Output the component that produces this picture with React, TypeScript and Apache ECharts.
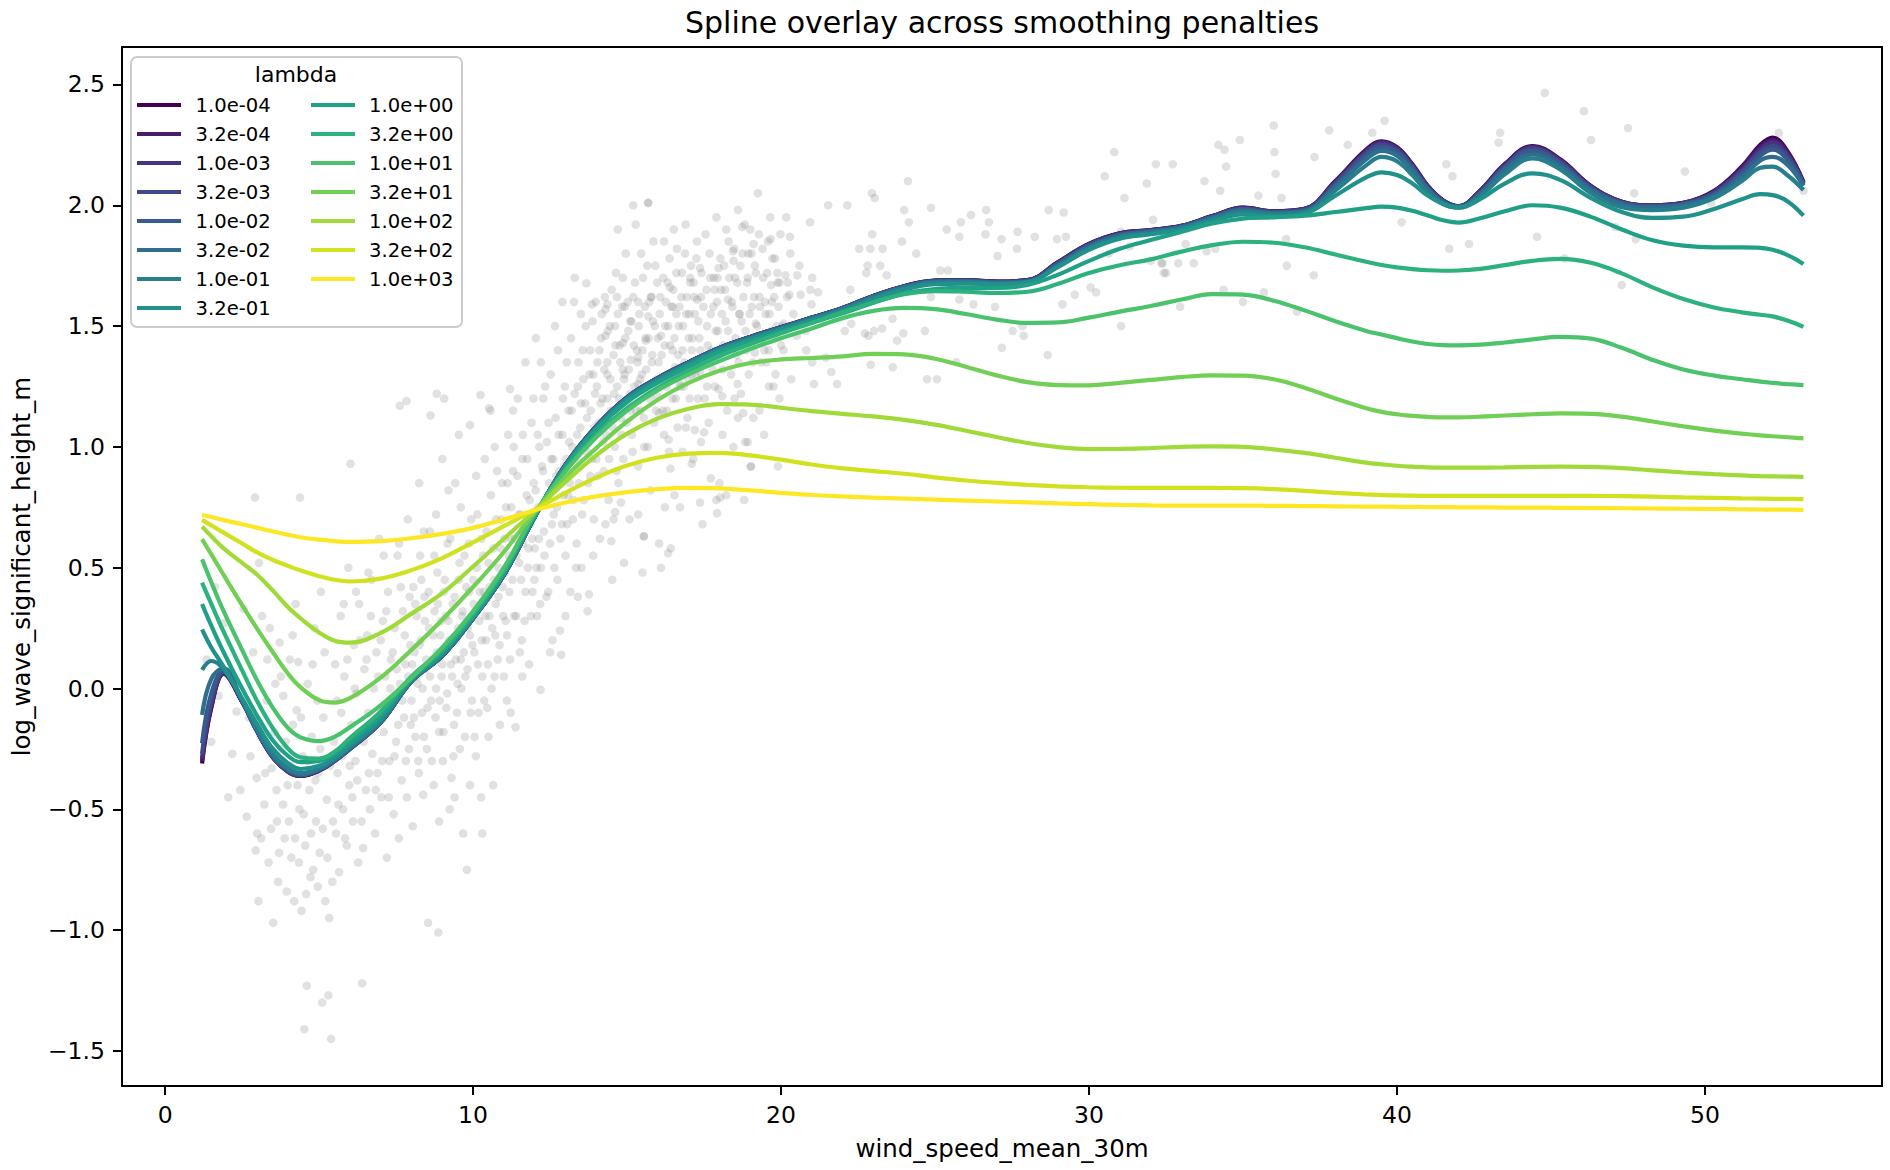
import React, { useEffect, useRef } from "react";
import * as echarts from "echarts";

const FONT = "DejaVu Sans";

const X_TICKS = [0, 10, 20, 30, 40, 50];
const Y_TICKS = [-1.5, -1, -0.5, 0, 0.5, 1, 1.5, 2, 2.5];

const LAMBDA_LABELS = [
  "1.0e-04", "3.2e-04", "1.0e-03", "3.2e-03", "1.0e-02", "3.2e-02", "1.0e-01", "3.2e-01",
  "1.0e+00", "3.2e+00", "1.0e+01", "3.2e+01", "1.0e+02", "3.2e+02", "1.0e+03",
];

const COLORS = [
  "#440154", "#481b6d", "#46327e", "#3f4888", "#375b8c", "#2e6e8e", "#277f8e", "#21918c",
  "#20a187", "#2db27d", "#4bc26c", "#72cf56", "#a0da39", "#d0e11e", "#fde725",
];

const X = [
  1.2, 1.5, 1.9, 2.5, 3, 3.5, 4, 4.4, 5, 5.5,
  6, 7, 8, 9, 10, 11, 12, 13, 14, 15,
  16, 17, 18, 19, 20, 21, 22, 23, 24, 25,
  26, 27, 28, 29, 30, 31, 32, 33, 34, 35,
  36, 37, 38, 39, 39.5, 40, 40.5, 41, 41.5, 42,
  42.7, 43.5, 44.4, 45.3, 46.3, 47.3, 48.3, 49.3, 50.3, 51.2,
  51.8, 52.2, 52.7, 53.2,
];

const Y_1e_4 = [
  -0.31, -0.08, 0.06, -0.055, -0.18, -0.285, -0.345, -0.362, -0.34, -0.3,
  -0.25, -0.14, 0.03, 0.135, 0.29, 0.47, 0.71, 0.925, 1.085, 1.205,
  1.285, 1.35, 1.41, 1.455, 1.495, 1.535, 1.575, 1.625, 1.665, 1.688,
  1.69, 1.684, 1.69, 1.765, 1.84, 1.884, 1.897, 1.915, 1.955, 1.99,
  1.975, 1.985, 2.1, 2.23, 2.265, 2.24, 2.17, 2.08, 2.02, 1.996,
  2.06, 2.17, 2.245, 2.19, 2.08, 2.015, 2.0, 2.01, 2.06, 2.16,
  2.25, 2.28, 2.22, 2.095,
];
const Y_3e_4 = [
  -0.3, -0.075, 0.062, -0.055, -0.18, -0.285, -0.345, -0.361, -0.34, -0.3,
  -0.25, -0.14, 0.03, 0.135, 0.29, 0.47, 0.71, 0.925, 1.085, 1.205,
  1.285, 1.35, 1.41, 1.455, 1.495, 1.535, 1.575, 1.625, 1.665, 1.688,
  1.69, 1.684, 1.69, 1.765, 1.84, 1.884, 1.897, 1.915, 1.955, 1.99,
  1.975, 1.985, 2.098, 2.227, 2.262, 2.238, 2.168, 2.079, 2.02, 1.996,
  2.06, 2.168, 2.243, 2.188, 2.079, 2.015, 2.0, 2.01, 2.058, 2.155,
  2.242, 2.27, 2.214, 2.095,
];
const Y_1e_3 = [
  -0.29, -0.065, 0.064, -0.054, -0.18, -0.284, -0.344, -0.36, -0.339, -0.3,
  -0.25, -0.14, 0.03, 0.135, 0.29, 0.47, 0.71, 0.925, 1.085, 1.205,
  1.285, 1.35, 1.41, 1.455, 1.495, 1.535, 1.575, 1.625, 1.665, 1.687,
  1.689, 1.683, 1.689, 1.763, 1.838, 1.882, 1.896, 1.914, 1.954, 1.988,
  1.974, 1.984, 2.095, 2.222, 2.257, 2.234, 2.165, 2.077, 2.019, 1.996,
  2.058, 2.165, 2.24, 2.185, 2.077, 2.014, 1.999, 2.009, 2.055, 2.148,
  2.232, 2.26, 2.207, 2.092,
];
const Y_3e_3 = [
  -0.27, -0.05, 0.068, -0.053, -0.179, -0.283, -0.343, -0.359, -0.338, -0.299,
  -0.249, -0.14, 0.03, 0.135, 0.29, 0.47, 0.71, 0.925, 1.085, 1.205,
  1.285, 1.35, 1.41, 1.455, 1.495, 1.535, 1.575, 1.624, 1.664, 1.686,
  1.688, 1.682, 1.688, 1.761, 1.836, 1.88, 1.895, 1.913, 1.952, 1.986,
  1.972, 1.982, 2.09, 2.215, 2.25, 2.228, 2.16, 2.074, 2.017, 1.995,
  2.055, 2.16, 2.235, 2.18, 2.074, 2.012, 1.998, 2.007, 2.05, 2.14,
  2.22, 2.245, 2.197, 2.09,
];
const Y_1e_2 = [
  -0.226, -0.02, 0.075, -0.052, -0.178, -0.281, -0.34, -0.357, -0.336, -0.298,
  -0.248, -0.139, 0.03, 0.135, 0.29, 0.47, 0.71, 0.924, 1.084, 1.204,
  1.284, 1.349, 1.409, 1.454, 1.494, 1.534, 1.574, 1.623, 1.663, 1.685,
  1.687, 1.681, 1.686, 1.758, 1.833, 1.878, 1.893, 1.911, 1.95, 1.983,
  1.97, 1.979, 2.083, 2.205, 2.24, 2.22, 2.153, 2.07, 2.014, 1.994,
  2.05, 2.155, 2.225, 2.172, 2.07, 2.009, 1.995, 2.004, 2.045, 2.13,
  2.205, 2.23, 2.185, 2.085,
];
const Y_3e_2 = [
  -0.109, 0.04, 0.084, -0.05, -0.176, -0.278, -0.336, -0.354, -0.333, -0.296,
  -0.246, -0.138, 0.031, 0.136, 0.291, 0.471, 0.711, 0.923, 1.082, 1.202,
  1.282, 1.347, 1.407, 1.452, 1.492, 1.532, 1.572, 1.621, 1.661, 1.683,
  1.685, 1.679, 1.684, 1.754, 1.829, 1.874, 1.89, 1.909, 1.947, 1.979,
  1.967, 1.976, 2.075, 2.19, 2.225, 2.205, 2.143, 2.064, 2.01, 1.993,
  2.045, 2.145, 2.21, 2.162, 2.062, 2.004, 1.99, 2.0, 2.038, 2.115,
  2.185, 2.2, 2.165, 2.08,
];
const Y_1e_1 = [
  0.077, 0.114, 0.08, -0.045, -0.17, -0.272, -0.33, -0.35, -0.33, -0.293,
  -0.243, -0.136, 0.032, 0.138, 0.292, 0.472, 0.712, 0.922, 1.08, 1.2,
  1.28, 1.345, 1.404, 1.449, 1.489, 1.529, 1.569, 1.618, 1.658, 1.68,
  1.682, 1.676, 1.681, 1.748, 1.822, 1.868, 1.886, 1.906, 1.943, 1.974,
  1.963, 1.972, 2.062, 2.165, 2.2, 2.182, 2.125, 2.052, 2.005, 1.99,
  2.038, 2.128, 2.194, 2.148, 2.05, 1.992, 1.98, 1.99, 2.03, 2.1,
  2.155, 2.16, 2.122, 2.063,
];
const Y_3e_1 = [
  0.245, 0.17, 0.09, -0.04, -0.15, -0.25, -0.31, -0.333, -0.32, -0.285,
  -0.235, -0.125, 0.035, 0.145, 0.295, 0.475, 0.712, 0.92, 1.077, 1.195,
  1.276, 1.341, 1.4, 1.445, 1.485, 1.524, 1.563, 1.611, 1.651, 1.673,
  1.676, 1.673, 1.681, 1.745, 1.816, 1.862, 1.88, 1.9, 1.935, 1.962,
  1.955, 1.966, 2.04, 2.115, 2.136, 2.125, 2.09, 2.04, 2.005, 1.99,
  2.025, 2.09, 2.132, 2.105, 2.03, 1.972, 1.948, 1.953, 1.985, 2.025,
  2.046, 2.042, 2.015, 1.957,
];
const Y_1e0 = [
  0.35, 0.26, 0.15, 0.0, -0.115, -0.215, -0.28, -0.305, -0.3, -0.27,
  -0.22, -0.11, 0.04, 0.15, 0.3, 0.48, 0.715, 0.915, 1.07, 1.185,
  1.266, 1.332, 1.392, 1.437, 1.477, 1.515, 1.553, 1.597, 1.635, 1.653,
  1.658, 1.658, 1.67, 1.713, 1.77, 1.82, 1.856, 1.89, 1.925, 1.945,
  1.95, 1.957, 1.972, 1.988, 1.994, 1.99, 1.977, 1.958, 1.938, 1.928,
  1.946, 1.975, 2.0, 1.99, 1.952, 1.9, 1.855, 1.833, 1.826, 1.826,
  1.824, 1.816, 1.793, 1.757,
];
const Y_3e0 = [
  0.438, 0.35, 0.235, 0.075, -0.055, -0.165, -0.25, -0.285, -0.29, -0.262,
  -0.205, -0.095, 0.05, 0.16, 0.31, 0.49, 0.72, 0.905, 1.05, 1.16,
  1.245, 1.315, 1.375, 1.425, 1.47, 1.513, 1.557, 1.598, 1.632, 1.645,
  1.642, 1.637, 1.642, 1.675, 1.72, 1.752, 1.776, 1.808, 1.835, 1.849,
  1.845, 1.826, 1.796, 1.766, 1.753, 1.743, 1.736, 1.731, 1.729, 1.73,
  1.737, 1.752, 1.77, 1.778, 1.762, 1.718, 1.66, 1.612, 1.577, 1.557,
  1.547, 1.54, 1.522, 1.497,
];
const Y_1e1 = [
  0.535, 0.44, 0.32, 0.16, 0.03, -0.08, -0.165, -0.202, -0.218, -0.2,
  -0.16, -0.07, 0.045, 0.17, 0.32, 0.5, 0.725, 0.9, 1.04, 1.15,
  1.235, 1.3, 1.355, 1.405, 1.45, 1.49, 1.533, 1.563, 1.575, 1.57,
  1.55, 1.527, 1.513, 1.515, 1.535, 1.56, 1.583, 1.61, 1.632, 1.63,
  1.605, 1.565, 1.52, 1.48, 1.465, 1.45, 1.436, 1.426, 1.421, 1.42,
  1.423, 1.432, 1.445, 1.455, 1.448, 1.41, 1.36, 1.32, 1.295, 1.28,
  1.27, 1.265, 1.26, 1.256,
];
const Y_3e1 = [
  0.618, 0.555, 0.47, 0.345, 0.245, 0.15, 0.06, 0.005, -0.048, -0.058,
  -0.04, 0.045, 0.16, 0.285, 0.42, 0.565, 0.73, 0.875, 0.995, 1.105,
  1.195, 1.265, 1.315, 1.347, 1.362, 1.368, 1.375, 1.385, 1.383, 1.365,
  1.332, 1.296, 1.268, 1.256, 1.255, 1.265, 1.277, 1.289, 1.296, 1.295,
  1.28, 1.245, 1.2, 1.16, 1.145, 1.135, 1.128, 1.124, 1.122, 1.122,
  1.125, 1.13, 1.135, 1.139, 1.137, 1.125, 1.105, 1.085, 1.067, 1.055,
  1.048, 1.044, 1.04, 1.035,
];
const Y_1e2 = [
  0.67, 0.63, 0.58, 0.52, 0.47, 0.405, 0.335, 0.29, 0.232, 0.198,
  0.19, 0.23, 0.31, 0.395, 0.505, 0.62, 0.735, 0.855, 0.965, 1.055,
  1.118, 1.158, 1.177, 1.175, 1.162, 1.148, 1.137, 1.126, 1.112, 1.092,
  1.067, 1.041, 1.016, 0.999, 0.991, 0.992, 0.995, 1.0, 1.002, 1.0,
  0.99, 0.975, 0.955, 0.935, 0.928, 0.922, 0.918, 0.915, 0.914, 0.914,
  0.914, 0.915, 0.917, 0.918, 0.917, 0.912, 0.903, 0.894, 0.887, 0.882,
  0.879, 0.878, 0.877, 0.876,
];
const Y_3e2 = [
  0.698, 0.675, 0.645, 0.6, 0.562, 0.532, 0.507, 0.488, 0.465, 0.45,
  0.443, 0.455, 0.49, 0.54, 0.605, 0.672, 0.74, 0.81, 0.873, 0.923,
  0.956, 0.972, 0.975, 0.965, 0.947, 0.927, 0.911, 0.9, 0.889, 0.874,
  0.861, 0.851, 0.843, 0.837, 0.833, 0.831, 0.83, 0.83, 0.83, 0.829,
  0.825, 0.818, 0.81, 0.803, 0.8, 0.799, 0.798, 0.797, 0.797, 0.797,
  0.797, 0.797, 0.797, 0.797, 0.797, 0.796, 0.794, 0.791, 0.789, 0.787,
  0.786, 0.785, 0.785, 0.784,
];
const Y_1e3 = [
  0.718, 0.71, 0.697, 0.68, 0.665, 0.65, 0.636, 0.626, 0.616, 0.61,
  0.607, 0.61, 0.622, 0.64, 0.665, 0.7, 0.738, 0.77, 0.795, 0.813,
  0.825, 0.83, 0.828, 0.82, 0.81, 0.801, 0.795, 0.79, 0.786, 0.782,
  0.778, 0.774, 0.77, 0.766, 0.763, 0.76, 0.758, 0.757, 0.757, 0.757,
  0.756, 0.755, 0.754, 0.753, 0.753, 0.752, 0.752, 0.751, 0.751, 0.75,
  0.75, 0.749, 0.749, 0.748, 0.747, 0.746, 0.745, 0.744, 0.743, 0.742,
  0.741, 0.74, 0.74, 0.739,
];

const SPLINES = [
  Y_1e_4, Y_3e_4, Y_1e_3, Y_3e_3, Y_1e_2, Y_3e_2, Y_1e_1, Y_3e_1,
  Y_1e0, Y_3e0, Y_1e1, Y_3e1, Y_1e2, Y_3e2, Y_1e3,
];

const SCATTER_LOW = [
  [1.35,0.12],[1.5,-0.22],[1.62,0.42],[1.73,-0.03],[1.9,0.27],[2.05,-0.45],[2.18,-0.27],[2.32,-0.095],[2.44,-0.42],[2.55,0.33],
  [2.65,-0.53],[2.72,-0.12],[2.77,-0.28],[2.86,0.15],[2.92,0.79],[2.94,-0.67],[2.97,-0.37],[2.99,-0.6],[3.03,-0.88],[3.05,0.52],
  [3.1,-0.2],[3.15,0.3],[3.22,-0.48],[3.3,-0.05],[3.36,-0.72],[3.4,0.25],[3.46,-0.33],[3.51,-0.97],[3.58,0.02],[3.63,-0.55],
  [3.67,-0.8],[3.72,0.19],[3.78,-0.25],[3.84,-0.03],[3.88,-0.62],[3.95,-0.84],[3.98,-0.4],[4.05,0.12],[4.1,-0.7],[4.15,-0.15],
  [4.19,-0.88],[4.24,0.35],[4.27,-0.09],[4.32,0.11],[4.36,-0.5],[4.38,0.79],[4.43,-0.92],[4.47,-0.28],[4.52,-1.41],[4.55,-0.65],
  [4.6,-1.23],[4.63,0.02],[4.68,-0.42],[4.72,-0.78],[4.76,-0.2],[4.81,-0.75],[4.85,0.25],[4.9,-0.55],[4.94,-0.05],[4.97,-0.35],
  [5.02,-0.68],[5.06,0.4],[5.1,-1.3],[5.14,-0.12],[5.2,-0.88],[5.25,-0.46],[5.3,-1.27],[5.33,-0.95],[5.39,-1.45],[5.43,-0.8],
  [5.48,-0.22],[5.52,0.1],[5.55,-0.6],[5.6,-0.35],[5.65,-0.76],[5.7,0.3],[5.72,-0.1],[5.78,-0.5],[5.82,0.05],[5.86,-0.25],
  [5.9,-0.65],[5.95,0.5],[5.98,-0.4],[6.02,0.93],[6.05,-0.15],[6.1,-0.55],[6.13,0.18],[6.18,-0.3],[6.22,-0.02],[6.27,-0.72],
  [6.3,0.35],[6.35,-0.2],[6.4,-1.22],[6.43,-0.66],[6.47,0.08],[6.52,-0.42],[6.56,0.22],[6.6,-0.1],[6.65,-0.5],[6.7,0.45],
  [6.73,-0.27],[6.78,0.0],[6.82,-0.6],[6.86,0.15],[6.9,-0.35],[6.95,0.62],[6.98,-0.08],[7.02,-0.45],[7.07,0.28],[7.1,-0.18],
  [7.15,0.05],[7.2,-0.7],[7.24,0.4],[7.28,-0.3],[7.33,0.12],[7.37,-0.05],[7.42,-0.52],[7.46,0.25],[7.5,-0.22],[7.55,0.55],
  [7.59,-0.62],[7.62,1.17],[7.63,0.02],[7.68,-0.38],[7.72,0.32],[7.76,-0.12],[7.8,0.1],[7.84,1.19],[7.85,-0.45],[7.88,0.7],
  [7.92,-0.25],[7.96,0.18],[8.0,-0.05],
];

const SCATTER_LOW_DENSE = [
  [3.12,-0.62],[3.25,-0.35],[3.32,0.12],[3.44,-0.58],[3.55,-0.18],[3.62,-0.42],[3.7,-0.68],[3.76,0.05],[3.83,-0.48],[3.92,-0.22],
  [4.02,-0.55],[4.08,-0.32],[4.14,0.22],[4.22,-0.62],[4.3,-0.4],[4.35,-0.72],[4.41,-0.12],[4.5,-0.52],[4.58,-0.85],[4.66,-0.3],
  [4.74,-0.6],[4.79,0.1],[4.88,-0.38],[4.96,-0.82],[5.04,-0.25],[5.12,-0.58],[5.18,0.15],[5.27,-0.7],[5.35,-0.32],[5.45,-0.55],
  [5.58,-0.05],[5.63,-0.48],[5.75,-0.28],[5.84,-0.62],[5.92,0.12],[6.0,-0.32],[6.08,-0.45],[6.16,0.0],[6.24,-0.38],[6.33,0.2],
  [6.38,-0.55],[6.45,-0.22],[6.54,0.12],[6.62,-0.35],[6.68,0.3],[6.76,-0.15],[6.84,-0.42],[6.92,0.05],[7.0,0.2],[7.05,-0.3],
  [7.13,-0.08],[7.18,0.32],[7.26,-0.45],[7.31,0.0],[7.39,0.15],[7.45,-0.28],[7.52,0.08],[7.57,-0.15],[7.65,0.42],[7.7,-0.05],
  [7.78,0.22],[7.82,-0.3],[7.9,0.05],[7.94,0.38],[7.98,-0.15],[7.6,0.6],[7.1,0.55],[6.6,0.48],[6.2,0.4],[5.8,0.35],
];

const SCATTER_MID = [
  [8.04,-0.57],[8.06,0.42],[8.1,0.15],[8.13,-0.2],[8.17,0.3],[8.2,0.02],[8.24,-0.35],[8.28,0.55],[8.3,0.2],[8.34,-0.1],
  [8.38,-0.44],[8.42,0.38],[8.45,0.08],[8.5,-0.25],[8.54,-0.97],[8.57,0.25],[8.6,0.65],[8.62,1.13],[8.64,-0.05],[8.68,0.12],
  [8.72,-0.4],[8.75,0.32],[8.8,0.0],[8.82,1.22],[8.84,0.48],[8.87,-1.01],[8.9,-0.18],[8.94,0.22],[8.98,0.05],[9.02,-0.3],
  [9.05,0.4],[9.06,1.2],[9.1,0.16],[9.13,-0.08],[9.17,0.6],[9.2,0.28],[9.24,-0.5],[9.28,0.1],[9.3,-0.37],[9.34,0.35],
  [9.38,-0.15],[9.42,0.85],[9.45,0.2],[9.5,0.02],[9.53,0.45],[9.54,1.05],[9.57,-0.25],[9.6,0.12],[9.64,0.3],[9.68,-0.6],
  [9.72,0.55],[9.75,0.05],[9.8,-0.75],[9.83,0.25],[9.87,0.4],[9.9,1.09],[9.92,-0.1],[9.94,0.7],[9.98,0.18],[10.02,0.35],
  [10.05,-0.2],[10.09,-0.28],[10.12,0.5],[10.16,0.1],[10.2,0.28],[10.24,1.215],[10.26,-0.45],[10.27,0.62],[10.3,0.05],[10.35,0.4],
  [10.38,0.95],[10.42,0.2],[10.46,-0.08],[10.5,0.52],[10.52,1.16],[10.53,0.3],[10.57,1.15],[10.6,0.0],[10.65,-0.4],[10.68,0.45],
  [10.72,0.22],[10.75,0.7],[10.8,0.12],[10.83,0.38],[10.87,-0.15],[10.9,0.58],[10.94,0.85],[10.98,0.3],[11.0,0.05],[11.04,0.48],
  [11.07,0.75],[11.1,0.22],[11.14,1.05],[11.18,0.4],[11.2,1.24],[11.22,-0.1],[11.25,0.62],[11.3,0.9],[11.33,0.3],[11.38,-0.16],
  [11.41,0.55],[11.45,1.2],[11.48,0.72],[11.52,0.15],[11.56,0.45],[11.6,0.95],[11.63,0.6],[11.67,0.28],[11.7,1.35],[11.74,0.8],
  [11.78,0.5],[11.82,0.1],[11.86,0.68],[11.9,1.1],[11.93,0.4],[11.97,0.85],[12.0,0.58],[12.04,1.45],[12.08,0.3],[12.12,0.75],
  [12.15,1.0],[12.19,-0.005],[12.2,0.5],[12.27,0.9],[12.3,0.65],[12.34,1.25],[12.38,0.38],[12.42,0.8],[12.45,1.1],[12.5,0.6],
  [12.54,0.95],[12.58,0.2],[12.62,0.72],[12.66,1.5],[12.7,0.88],[12.74,0.45],[12.78,1.05],[12.82,0.24],[12.86,0.14],[12.88,0.68],
  [12.92,1.2],[12.96,0.92],[13.0,0.55],[13.04,1.35],[13.08,0.8],[13.12,1.02],[13.16,0.4],[13.2,1.15],[13.24,0.7],[13.28,1.6],
  [13.32,0.95],[13.36,0.6],[13.4,1.25],[13.44,0.85],[13.48,1.08],[13.5,1.55],[13.52,0.5],[13.56,1.4],[13.6,0.78],[13.64,1.18],
  [13.68,1.677],[13.7,0.98],[13.72,0.32],[13.76,0.39],[13.78,1.3],[13.8,0.88],[13.84,1.05],[13.86,1.59],[13.88,1.52],[13.92,0.7],
  [13.96,1.22],[14.0,0.95],
];

const SCATTER_MID_DENSE = [
  [8.02,0.1],[8.08,-0.12],[8.12,0.35],[8.16,0.05],[8.22,-0.3],[8.26,0.18],[8.32,0.45],[8.36,0.0],[8.4,-0.2],[8.44,0.28],
  [8.48,0.12],[8.52,-0.08],[8.56,0.4],[8.6,0.05],[8.66,-0.3],[8.7,0.22],[8.74,0.55],[8.78,-0.12],[8.82,0.15],[8.86,0.35],
  [8.92,-0.05],[8.96,0.28],[9.0,0.1],[9.04,-0.18],[9.08,0.45],[9.12,0.3],[9.16,-0.02],[9.22,0.2],[9.26,0.62],[9.32,0.05],
  [9.36,-0.28],[9.4,0.38],[9.44,0.12],[9.48,-0.1],[9.52,0.25],[9.56,0.52],[9.62,0.0],[9.66,0.32],[9.7,0.15],[9.74,-0.2],
  [9.78,0.42],[9.82,0.08],[9.86,0.6],[9.9,0.22],[9.96,-0.05],[10.0,0.45],[10.04,0.15],[10.08,0.32],[10.14,0.72],[10.18,-0.1],
  [10.22,0.4],[10.28,0.2],[10.32,0.55],[10.36,-0.05],[10.4,0.3],[10.44,0.65],[10.48,0.1],[10.54,0.42],[10.58,0.8],[10.62,0.25],
  [10.66,0.58],[10.7,0.05],[10.74,0.35],[10.78,0.9],[10.82,0.5],[10.86,0.18],[10.92,0.7],[10.96,0.42],[11.02,0.62],[11.06,0.28],
  [11.12,0.85],[11.16,0.55],[11.2,0.12],[11.24,0.75],[11.28,0.45],[11.32,1.0],[11.36,0.62],[11.4,0.3],[11.44,0.88],[11.5,0.52],
  [11.54,0.72],[11.58,0.2],[11.62,1.05],[11.66,0.65],[11.7,0.4],[11.76,0.95],[11.8,0.58],[11.84,0.78],[11.88,0.3],[11.92,0.62],
  [11.96,1.2],[11.99,0.45],[10.1,0.88],[9.6,0.75],[9.2,0.82],[8.8,0.72],[8.4,0.65],[9.9,-0.4],[10.5,-0.2],[11.1,-0.05],
  [9.4,-0.45],[8.9,-0.55],[10.3,-0.6],[11.6,0.05],[8.25,0.85],[9.0,0.95],[10.7,1.0],[11.3,1.15],
  [12.03,0.82],[12.06,0.5],[12.1,1.05],[12.14,0.62],[12.18,0.35],[12.24,0.92],[12.28,1.2],[12.32,0.55],[12.36,0.78],[12.4,1.02],
  [12.44,0.4],[12.48,0.85],[12.52,1.3],[12.56,0.68],[12.6,0.95],[12.64,0.5],[12.68,1.12],[12.72,0.75],[12.76,1.4],[12.8,0.9],
  [12.84,0.62],[12.9,1.05],[12.94,0.8],[12.98,1.25],[13.02,0.95],[13.06,0.68],[13.1,1.15],[13.14,0.85],[13.18,1.45],[13.22,1.0],
  [13.26,0.78],[13.3,1.22],[13.34,0.5],[13.38,1.05],[13.42,1.35],[13.46,0.92],[13.5,1.18],[13.54,0.72],[13.58,1.28],[13.62,1.0],
  [13.66,1.5],[13.7,1.12],[13.74,0.85],[13.8,1.4],[13.82,1.15],[13.86,0.95],[13.9,1.3],[13.94,1.08],[13.98,1.6],[12.5,0.15],
  [13.0,0.3],[13.4,0.38],[13.9,0.55],[12.9,1.6],[13.3,1.7],[12.2,1.35],
];

const SCATTER_HIGH = [
  [14.04,1.35],[14.08,1.1],[14.12,0.62],[14.16,1.45],[14.2,1.2],[14.24,0.9],[14.28,1.62],[14.3,1.57],[14.32,1.05],[14.36,1.3],
  [14.4,0.78],[14.44,1.5],[14.48,1.15],[14.52,0.45],[14.56,1.38],[14.6,1.0],[14.64,1.72],[14.68,1.25],[14.72,0.85],[14.76,1.42],
  [14.8,1.12],[14.84,1.58],[14.88,0.95],[14.9,0.52],[14.92,1.3],[14.96,1.8],[15.0,1.18],[15.04,1.48],[15.08,0.7],[15.12,1.36],
  [15.16,1.05],[15.2,1.62],[15.24,1.25],[15.28,1.92],[15.32,1.4],[15.36,0.92],[15.4,1.55],[15.44,1.15],[15.48,1.3],[15.5,0.48],
  [15.52,1.7],[15.54,0.63],[15.56,1.0],[15.6,1.45],[15.64,1.22],[15.68,2.01],[15.72,1.6],[15.76,0.82],[15.8,1.35],[15.84,1.52],
  [15.88,1.1],[15.92,1.75],[15.96,1.28],[16.0,1.45],[16.04,0.6],[16.08,1.62],[16.1,0.5],[16.12,1.38],[16.16,1.15],[16.2,1.85],
  [16.24,1.5],[16.28,1.25],[16.32,1.68],[16.33,0.56],[16.36,0.98],[16.4,1.42],[16.42,0.58],[16.44,1.58],[16.48,1.2],[16.52,1.9],
  [16.56,1.33],[16.6,1.72],[16.64,1.08],[16.68,1.5],[16.72,0.75],[16.76,1.62],[16.8,1.4],[16.84,1.25],[16.88,1.8],[16.92,1.55],
  [16.96,1.12],[17.0,1.45],[17.05,1.68],[17.1,1.3],[17.15,0.95],[17.2,1.55],[17.25,1.78],[17.3,1.2],[17.35,1.45],[17.4,1.62],
  [17.45,0.68],[17.5,1.35],[17.55,1.88],[17.6,1.5],[17.65,1.1],[17.7,1.7],[17.75,1.4],[17.8,1.58],[17.85,1.25],[17.9,1.95],
  [17.92,0.725],[17.95,1.48],[18.0,0.85],[18.02,0.79],[18.05,1.65],[18.1,1.32],[18.15,1.75],[18.2,1.52],[18.25,1.15],[18.3,1.85],
  [18.35,1.42],[18.4,1.6],[18.45,1.0],[18.5,1.7],[18.55,1.38],[18.6,1.98],[18.65,1.55],[18.7,1.22],[18.75,1.8],[18.8,0.78],
  [18.85,1.48],[18.9,1.68],[18.92,1.02],[18.95,1.3],[19.0,1.9],[19.02,0.918],[19.05,1.58],[19.1,1.12],[19.15,1.75],[19.2,1.45],
  [19.25,2.05],[19.3,1.62],[19.35,1.35],[19.4,1.82],[19.45,1.05],[19.5,1.55],[19.55,1.72],[19.6,1.4],[19.65,1.95],[19.7,1.6],
  [19.75,1.25],[19.8,1.78],[19.85,1.5],[19.9,0.92],[19.95,1.68],[20.0,1.42],
  [15.69,2.01],[18.74,1.91],[20.17,1.95],[20.29,1.87],[20.94,1.93],[19.66,1.86],[19.11,1.84],[18.94,1.8],[18.46,1.77],[18.44,1.81],
  [17.94,1.7],[17.97,1.74],[17.37,1.74],[17.05,1.7],[16.39,1.66],[16.48,1.58],[15.79,1.62],[15.69,1.54],[15.11,1.52],[14.61,1.5],
  [14.3,1.46],[14.86,1.43],[15.36,1.37],[14.36,1.35],[14.86,1.32],[15.36,1.26],[15.98,1.21],[14.36,1.2],[15.11,1.15],[16.04,1.14],
  [15.67,1.0],[16.41,0.91],[17.1,0.93],[17.9,0.78],[17.37,0.77],[16.54,0.8],[16.23,0.75],[15.36,0.72],[14.61,0.73],[14.8,0.77],
  [14.56,0.7],[15.55,0.63],[14.49,0.61],[17.72,0.87],[18.22,0.8],[18.84,1.02],[19.02,0.92],[20.33,1.28],[19.95,1.2],[19.61,1.25],
  [18.77,1.14],[18.49,1.2],[18.09,1.21],[17.5,1.06],[17.2,1.07],[16.91,1.08],[16.35,1.03],[16.72,1.26],[17.03,1.2],[17.6,1.25],
  [17.37,1.31],[17.84,1.37],[17.97,1.24],[18.59,1.26],[19.15,1.39],[19.46,1.4],[19.83,1.46],[20.82,1.4],[20.08,1.4],[20.51,1.46],
  [20.08,1.51],[19.18,1.51],[18.65,1.55],[18.28,1.61],[17.84,1.65],[17.28,1.61],[17.16,1.68],[16.6,1.55],[16.1,1.46],[16.48,1.4],
  [17.1,1.4],[15.61,1.44],[14.92,1.58],[15.36,1.6],[14.67,1.62],[14.36,1.59],[20.3,1.8],[20.53,1.71],[20.14,1.71],[19.89,1.68],
  [19.68,1.67],[20.27,1.63],[20.22,1.68],[20.64,1.63],[20.99,1.59],
];

const SCATTER_HIGH_DENSE = [
  [14.02,1.25],[14.06,0.88],[14.1,1.4],[14.14,1.18],[14.18,1.55],[14.22,1.02],[14.26,1.32],[14.34,1.12],[14.38,1.48],[14.42,0.95],
  [14.46,1.28],[14.5,1.65],[14.54,1.08],[14.58,1.22],[14.62,1.42],[14.66,0.9],[14.7,1.55],[14.74,1.2],[14.78,1.35],[14.82,1.05],
  [14.86,1.7],[14.9,1.28],[14.94,1.45],[14.98,1.1],[15.02,1.6],[15.06,1.32],[15.1,1.22],[15.14,1.52],[15.18,0.98],[15.22,1.42],
  [15.26,1.68],[15.3,1.15],[15.34,1.35],[15.38,1.5],[15.42,1.28],[15.46,1.8],[15.5,1.4],[15.54,1.12],[15.58,1.58],[15.62,1.32],
  [15.66,1.75],[15.7,1.45],[15.74,1.2],[15.78,1.62],[15.82,1.38],[15.86,1.85],[15.9,1.5],[15.94,1.15],[15.98,1.68],[14.3,0.68],
  [14.7,1.9],[15.2,2.0],
  [16.02,1.35],[16.06,1.55],[16.14,1.28],[16.18,1.7],[16.22,1.42],[16.26,1.6],[16.3,1.15],[16.34,1.5],[16.38,1.78],[16.46,1.3],
  [16.5,1.65],[16.54,1.45],[16.58,1.2],[16.62,1.82],[16.66,1.38],[16.7,1.58],[16.74,1.25],[16.78,1.72],[16.82,1.5],[16.86,1.35],
  [16.9,1.92],[16.94,1.62],[16.98,1.28],[17.02,1.55],[17.08,1.75],[17.12,1.45],[17.18,1.62],[17.22,1.3],[17.27,1.85],[17.32,1.52],
  [17.38,1.4],[17.42,1.72],[17.48,1.58],[17.52,1.2],[17.58,1.65],[17.62,1.42],[17.68,1.8],[17.72,1.55],[17.78,1.32],[17.82,1.7],
  [17.88,1.48],[17.92,1.6],[17.98,1.38],[18.03,1.78],[18.08,1.55],[18.12,1.42],[18.18,1.65],[18.22,1.9],[18.28,1.48],[18.32,1.7],
  [18.38,1.3],[18.42,1.58],[18.48,1.82],[18.52,1.45],[18.58,1.68],[18.62,1.35],[18.68,1.75],[18.72,1.52],[18.78,1.62],[18.82,1.92],
  [18.88,1.4],[18.92,1.7],[18.98,1.55],[19.04,1.8],[19.08,1.35],[19.12,1.62],[19.18,1.72],[19.22,1.5],[19.28,1.88],[19.32,1.58],
  [19.38,1.45],[19.42,1.7],[19.48,1.6],[19.52,1.35],[19.58,1.85],[19.62,1.55],[19.68,1.48],[19.72,1.78],[19.78,1.62],[19.82,1.3],
  [19.88,1.72],[19.92,1.58],[19.98,1.88],[20.05,1.5],[20.2,1.62],[20.4,1.55],[20.6,1.75],[20.8,1.48],[20.95,1.65],[16.2,1.05],
  [16.8,0.98],[17.4,1.02],[18.1,1.05],[18.6,1.12],[19.3,1.15],
];

const SCATTER_UPPER = [
  [21.01,1.7],[21.2,1.64],[21.53,2.0],[22.15,2.0],[22.95,2.05],[23.04,2.03],[24.12,2.1],[24.0,1.98],[24.15,1.93],[24.87,1.99],
  [25.38,1.9],[25.84,1.93],[26.17,1.96],[26.75,1.93],[25.79,1.87],[26.64,1.88],[27.16,1.86],[27.68,1.89],[28.24,1.87],[28.96,1.86],
  [29.25,1.87],[30.51,2.12],[30.82,2.22],[31.15,2.03],[31.88,2.09],[32.17,2.17],[32.72,2.17],[28.69,1.98],[29.18,1.97],[31.04,1.89],
  [31.32,1.83],[30.64,1.8],[32.0,1.77],[32.36,1.76],[30.05,1.66],[30.23,1.64],[29.54,1.63],[29.14,1.59],[31.04,1.5],[32.43,1.72],
  [32.96,1.58],[27.17,1.41],[28.66,1.38],[27.52,1.48],[27.88,1.46],[27.84,1.5],[26.95,1.58],[25.79,1.61],[26.25,1.59],[25.42,1.73],
  [25.17,1.73],[24.87,1.62],[24.67,1.48],[25.06,1.28],[24.74,1.28],[22.91,1.34],[23.63,1.33],[25.69,1.35],[24.39,1.8],[23.93,1.85],
  [22.96,1.88],[22.9,1.82],[23.3,1.82],[22.54,1.82],[23.22,1.75],[23.43,1.71],[22.81,1.75],[22.25,1.65],[22.77,1.72],[23.02,1.48],
  [23.28,1.49],[22.72,1.47],[23.77,1.44],[23.97,1.47],[23.62,1.53],[22.84,1.46],[22.28,1.51],[22.07,1.48],[21.3,1.53],[21.07,1.26],
  [21.82,1.26],[21.63,1.31],[21.01,1.35],[21.45,1.37],[27.03,1.79],[27.66,1.82],[26.66,1.98],
];

const SCATTER_TAIL = [
  [32.08,1.94],[32.58,1.9],[33.14,1.84],[33.82,1.81],[34.1,1.82],[32.38,1.76],[32.9,1.76],[33.4,1.76],[32.5,1.72],[33.75,2.1],
  [34.26,2.06],[34.9,2.27],[34.4,2.23],[34.2,2.25],[34.45,2.16],[35.5,2.04],[36.25,2.03],[36.0,2.33],[36.02,2.22],[36.06,2.13],
  [36.4,1.86],[36.42,1.75],[37.3,1.71],[34.37,1.65],[35.68,1.64],[35.0,1.6],[36.75,1.56],[37.32,2.2],[37.8,2.31],[38.4,2.25],
  [39.2,2.3],[39.6,2.35],[40.15,1.93],[41.7,1.82],[42.34,1.84],[41.6,2.17],[41.8,2.12],[43.35,2.3],[43.3,2.26],[44.8,2.465],
  [44.55,1.87],[45.44,1.78],[46.07,2.39],[46.3,2.27],[47.5,2.32],[47.7,2.05],[47.75,1.86],[47.3,1.67],[47.1,1.91],[49.35,2.14],
  [50.2,2.01],[52.4,2.3],[53.2,2.06],
];

const SCATTER = [
  ...SCATTER_LOW, ...SCATTER_LOW_DENSE, ...SCATTER_MID, ...SCATTER_MID_DENSE,
  ...SCATTER_HIGH, ...SCATTER_HIGH_DENSE, ...SCATTER_UPPER, ...SCATTER_TAIL,
];

function fmtY(v: number): string {
  return (v < 0 ? "\u2212" : "") + Math.abs(v).toFixed(1);
}

function textStyle(text: string, size: number, align: string) {
  return {
    text,
    fontSize: size,
    fontFamily: FONT,
    fill: "#000",
    align,
    verticalAlign: "middle",
    textAlign: align,
    textVerticalAlign: "middle",
  };
}

function buildGraphics() {
  const els: any[] = [];
  els.push({
    type: "rect",
    z: 100,
    shape: { x: 131, y: 57, width: 331, height: 270, r: 6 },
    style: { fill: "rgba(255,255,255,0.8)", stroke: "#cccccc", lineWidth: 2 },
  });
  els.push({ type: "text", z: 101, x: 296, y: 74, style: textStyle("lambda", 22, "center") });
  LAMBDA_LABELS.forEach((lab, i) => {
    const col = i < 8 ? 0 : 1;
    const row = i < 8 ? i : i - 8;
    const cy = 105 + row * 29;
    const hx = col === 0 ? 137 : 311;
    const tx = col === 0 ? 195.5 : 369;
    els.push({
      type: "line",
      z: 101,
      shape: { x1: hx, y1: cy, x2: hx + 44, y2: cy },
      style: { stroke: COLORS[i], lineWidth: 4 },
    });
    els.push({ type: "text", z: 101, x: tx, y: cy, style: textStyle(lab, 19.6, "left") });
  });
  els.push({
    type: "text",
    z: 101,
    x: 1002,
    y: 22,
    style: textStyle("Spline overlay across smoothing penalties", 30, "center"),
  });
  return els;
}

export default function App() {
  const ref = useRef<HTMLDivElement | null>(null);

  useEffect(() => {
    if (!ref.current) return;
    const chart = echarts.init(ref.current, null, { renderer: "svg" });
    const lineSeries = SPLINES.map((ys, i) => ({
      name: LAMBDA_LABELS[i],
      type: "line",
      data: X.map((x, j) => [x, ys[j]]),
      smooth: 0.4,
      showSymbol: false,
      symbol: "none",
      silent: true,
      z: 3,
      lineStyle: { color: COLORS[i], width: 4.2 },
      itemStyle: { color: COLORS[i] },
    }));
    const option: any = {
      animation: false,
      backgroundColor: "#ffffff",
      grid: {
        left: 122,
        top: 47,
        width: 1760,
        height: 1039,
        show: true,
        borderColor: "#000",
        borderWidth: 2,
        backgroundColor: "transparent",
      },
      xAxis: {
        type: "value",
        min: -1.4,
        max: 55.75,
        axisLine: { show: true, onZero: false, lineStyle: { color: "#000", width: 2 } },
        axisTick: { show: true, length: 9, lineStyle: { color: "#000", width: 2 }, customValues: X_TICKS },
        axisLabel: {
          customValues: X_TICKS,
          margin: 17,
          fontSize: 23.5,
          color: "#000",
          fontFamily: FONT,
          formatter: (v: number) => String(v),
        },
        splitLine: { show: false },
        name: "wind_speed_mean_30m",
        nameLocation: "middle",
        nameGap: 50,
        nameTextStyle: { fontSize: 24.5, color: "#000", fontFamily: FONT },
      },
      yAxis: {
        type: "value",
        min: -1.645,
        max: 2.655,
        axisLine: { show: true, onZero: false, lineStyle: { color: "#000", width: 2 } },
        axisTick: { show: true, length: 9, lineStyle: { color: "#000", width: 2 }, customValues: Y_TICKS },
        axisLabel: {
          customValues: Y_TICKS,
          margin: 17,
          fontSize: 23.5,
          color: "#000",
          fontFamily: FONT,
          formatter: (v: number) => fmtY(v),
        },
        splitLine: { show: false },
        name: "log_wave_significant_height_m",
        nameLocation: "middle",
        nameGap: 88,
        nameRotate: 90,
        nameTextStyle: { fontSize: 24.5, color: "#000", fontFamily: FONT },
      },
      series: [
        {
          name: "observations",
          type: "scatter",
          data: SCATTER,
          symbolSize: 8.6,
          silent: true,
          z: 1,
          itemStyle: { color: "#808080", opacity: 0.24 },
        },
        ...lineSeries,
      ],
      graphic: { elements: buildGraphics() },
    };
    chart.setOption(option);
    return () => chart.dispose();
  }, []);

  return (
    <div
      ref={ref}
      style={{ position: "absolute", left: 0, top: 0, width: 1890, height: 1170, background: "#fff" }}
    />
  );
}
